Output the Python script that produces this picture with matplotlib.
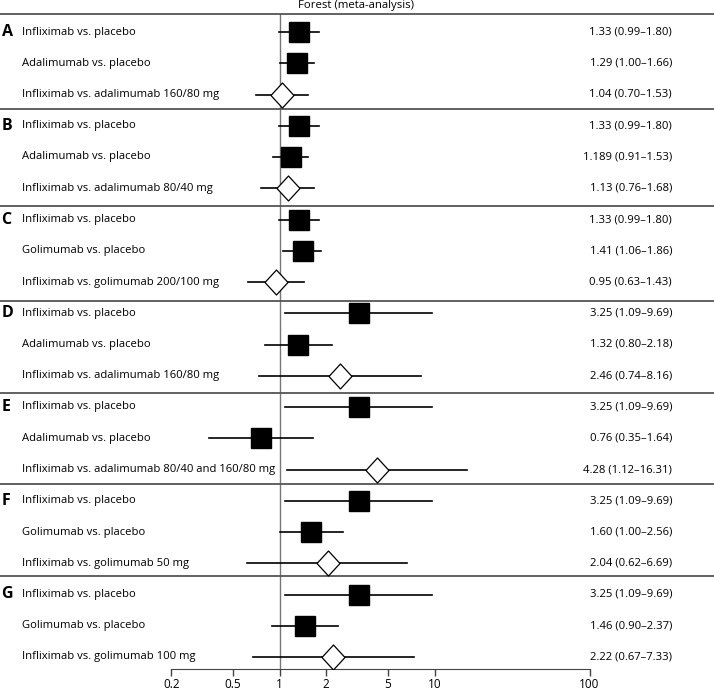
import matplotlib
matplotlib.use('Agg')
import matplotlib.pyplot as plt
from matplotlib import transforms

plt.rcParams['font.family'] = ['Open Sans', 'DejaVu Sans']

# dados (odds ratio e IC 95%), tres linhas por grupo
grupos = ['A', 'B', 'C', 'D', 'E', 'F', 'G']
comparacoes = [
    'Infliximab vs. placebo', 'Adalimumab vs. placebo', 'Infliximab vs. adalimumab 160/80 mg',
    'Infliximab vs. placebo', 'Adalimumab vs. placebo', 'Infliximab vs. adalimumab 80/40 mg',
    'Infliximab vs. placebo', 'Golimumab vs. placebo', 'Infliximab vs. golimumab 200/100 mg',
    'Infliximab vs. placebo', 'Adalimumab vs. placebo', 'Infliximab vs. adalimumab 160/80 mg',
    'Infliximab vs. placebo', 'Adalimumab vs. placebo', 'Infliximab vs. adalimumab 80/40 and 160/80 mg',
    'Infliximab vs. placebo', 'Golimumab vs. placebo', 'Infliximab vs. golimumab 50 mg',
    'Infliximab vs. placebo', 'Golimumab vs. placebo', 'Infliximab vs. golimumab 100 mg',
]
est = ['1.33', '1.29', '1.04', '1.33', '1.189', '1.13', '1.33', '1.41', '0.95',
       '3.25', '1.32', '2.46', '3.25', '0.76', '4.28', '3.25', '1.60', '2.04',
       '3.25', '1.46', '2.22']
ic_inf = ['0.99', '1.00', '0.70', '0.99', '0.91', '0.76', '0.99', '1.06', '0.63',
          '1.09', '0.80', '0.74', '1.09', '0.35', '1.12', '1.09', '1.00', '0.62',
          '1.09', '0.90', '0.67']
ic_sup = ['1.80', '1.66', '1.53', '1.80', '1.53', '1.68', '1.80', '1.86', '1.43',
          '9.69', '2.18', '8.16', '9.69', '1.64', '16.31', '9.69', '2.56', '6.69',
          '9.69', '2.37', '7.33']
ticks = [0.2, 0.5, 1, 2, 5, 10, 100]
tick_labels = ['0.2', '0.5', '1', '2', '5', '10', '100']

# layout em pixels
W, H = 714, 695
x_ini, x_fim = 171.2, 589.5
y_eixo = 669
y_topo = 14
separadores = [14, 109, 206, 301, 393, 484, 576]
passo = 31.25

fig = plt.figure(figsize=(W / 100, H / 100), dpi=100)
ax = fig.add_axes([x_ini / W, 1 - y_eixo / H, (x_fim - x_ini) / W, (y_eixo - y_topo) / H])
ax.set_xscale('log')
ax.set_xlim(0.2, 100)
ax.set_ylim(y_eixo, y_topo)
for s in ['top', 'left', 'right']:
    ax.spines[s].set_visible(False)
ax.spines['bottom'].set_bounds(0.2, 100)
ax.spines['bottom'].set_color('#444444')
ax.set_yticks([])
ax.set_xticks(ticks)
ax.set_xticklabels(tick_labels)
ax.minorticks_off()
ax.tick_params(axis='x', length=5, width=1, color='#444444', labelsize=8.5, pad=1.5)
ax.patch.set_visible(False)

ax.axvline(1, color='#777777', lw=1, zorder=1)

trans = transforms.blended_transform_factory(fig.transFigure, ax.transData)

for g, letra in enumerate(grupos):
    topo = 14 + 93.75 * g
    ax.plot([0, 1], [separadores[g]] * 2, transform=trans, color='#555555', lw=1.3, clip_on=False)
    ax.text(1.5 / W, topo + 18, letra, transform=trans, fontsize=11.5, fontweight='bold',
            va='center', ha='left')
    for k in range(3):
        i = g * 3 + k
        y = topo + 18 + passo * k
        e, lo, hi = float(est[i]), float(ic_inf[i]), float(ic_sup[i])
        ax.plot([lo, hi], [y, y], color='black', lw=1.2, zorder=2)
        if k < 2:
            ax.plot([e], [y], marker='s', markersize=13.8, color='black', zorder=3)
        else:
            ax.plot([e], [y], marker=[(-0.92, 0), (0, 1), (0.92, 0), (0, -1), (-0.92, 0)],
                    markersize=18, markerfacecolor='white', markeredgecolor='black',
                    markeredgewidth=0.9, zorder=3)
        ax.text(22 / W, y, comparacoes[i], transform=trans, fontsize=8.1, va='center', ha='left')
        ax.text(672 / W, y, f'{est[i]} ({ic_inf[i]}\u2013{ic_sup[i]})', transform=trans,
                fontsize=8.1, va='center', ha='right')

fig.text(356.5 / W, 1 - 5.5 / H, 'Forest (meta-analysis)', fontsize=8.2, ha='center', va='center')

fig.savefig('out.png', dpi=100)
